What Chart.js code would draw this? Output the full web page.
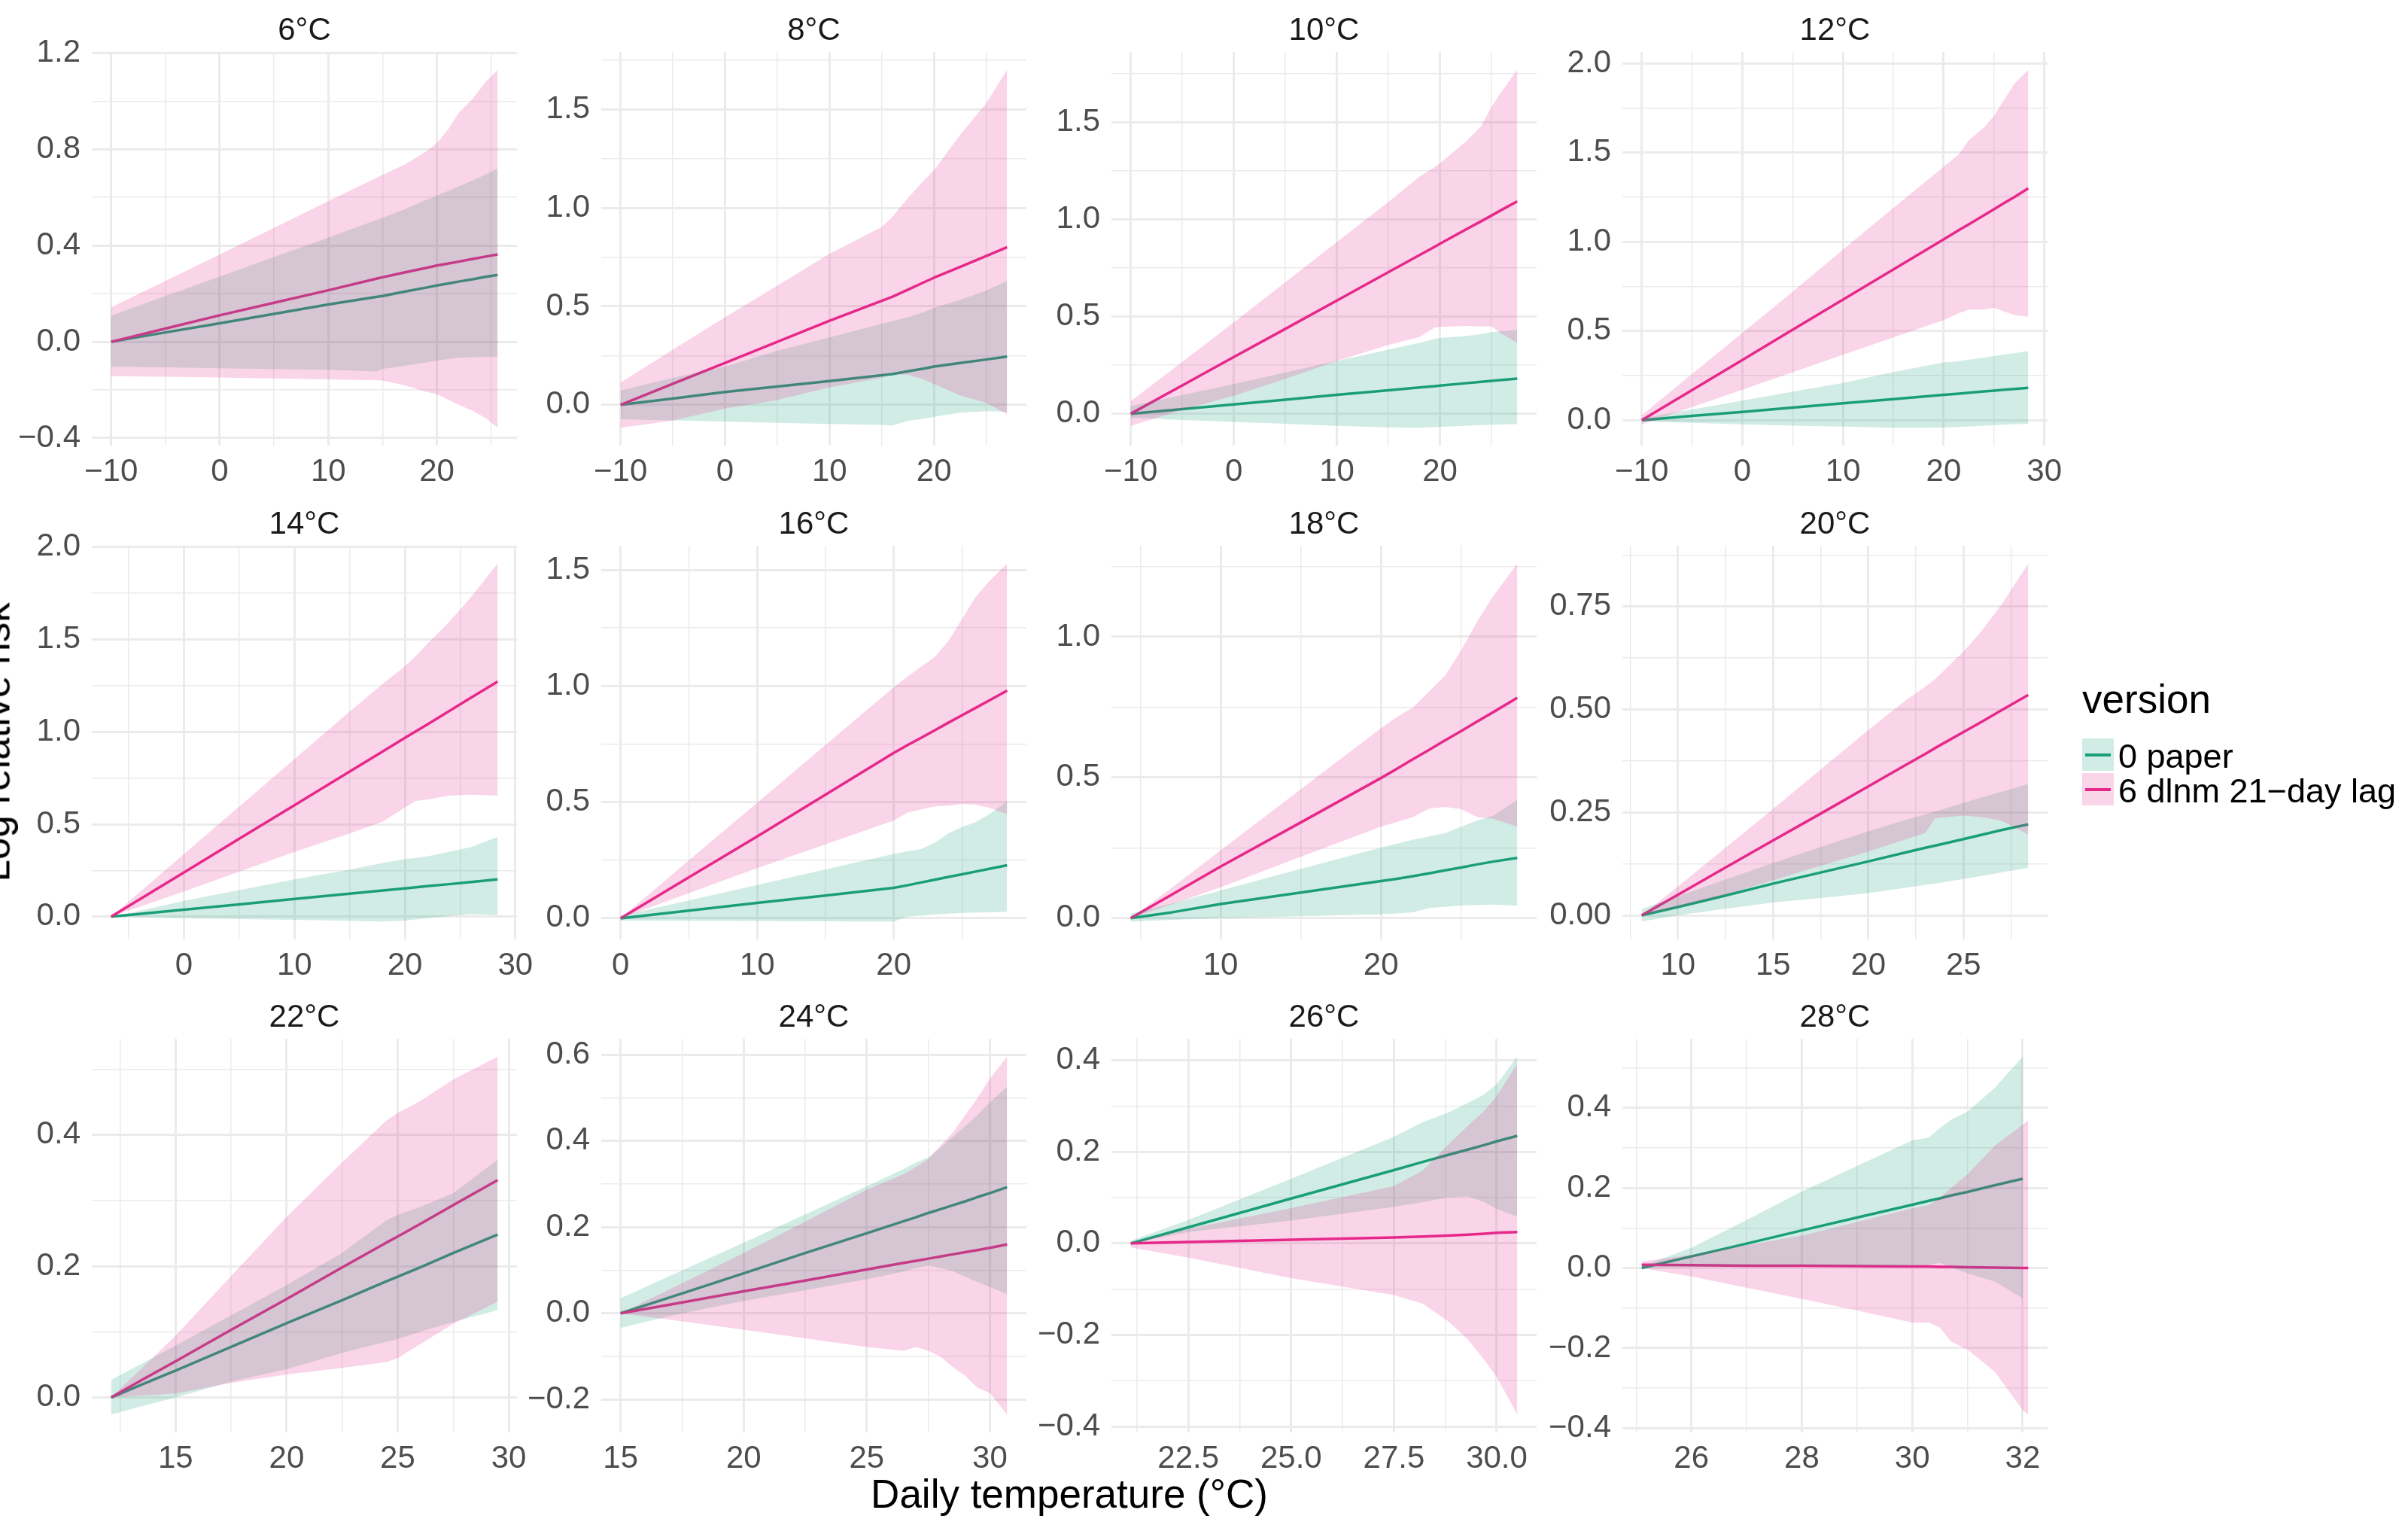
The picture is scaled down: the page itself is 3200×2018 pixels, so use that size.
<!DOCTYPE html>
<html>
<head>
<meta charset="utf-8">
<script src="https://cdn.jsdelivr.net/npm/chart.js"></script>
<style>
  body { margin: 0; width: 3200px; height: 2018px; background: #fff; position: relative; overflow: hidden;
         font-family: "Liberation Sans", Arial, sans-serif; }
  canvas { position: absolute; }
  .txt { position: absolute; white-space: nowrap; line-height: 1; }
  .strip { font-size: 42px; color: #1a1a1a; transform: translate(-50%, -50%); }
  .key { position: absolute; width: 42px; height: 43px; }
  .key span { position: absolute; left: 4px; right: 4px; top: 20px; height: 3.5px; }
</style>
</head>
<body>
<script>
// temperature (x) for each facet, then fitted log RR and CI bounds for both versions
const temp06 = [-10, -5, 0, 5, 10, 14.5, 15, 17, 19, 20, 21, 22, 23.3, 24.5, 25.6]
const paper06 = [0, 0.039, 0.077, 0.116, 0.155, 0.187, 0.19, 0.208, 0.225, 0.234, 0.242, 0.25, 0.26, 0.27, 0.278]
const paperLo06 = [-0.103, -0.106, -0.11, -0.113, -0.116, -0.123, -0.112, -0.1, -0.086, -0.079, -0.072, -0.066, -0.064, -0.063, -0.062]
const paperHi06 = [0.108, 0.19, 0.271, 0.352, 0.433, 0.507, 0.515, 0.55, 0.589, 0.608, 0.626, 0.645, 0.67, 0.695, 0.72]
const dlnm06 = [0, 0.055, 0.11, 0.162, 0.214, 0.263, 0.268, 0.288, 0.307, 0.317, 0.325, 0.333, 0.344, 0.354, 0.363]
const dlnmLo06 = [-0.143, -0.145, -0.148, -0.152, -0.156, -0.16, -0.161, -0.18, -0.208, -0.218, -0.24, -0.262, -0.287, -0.317, -0.357]
const dlnmHi06 = [0.143, 0.253, 0.363, 0.473, 0.584, 0.683, 0.694, 0.735, 0.79, 0.826, 0.88, 0.95, 1.01, 1.08, 1.13]

const temp08 = [-10, -5, 0, 5, 10, 15, 16, 17.5, 19, 20, 22.5, 25, 27]
const paper08 = [0, 0.032, 0.065, 0.093, 0.121, 0.15, 0.156, 0.17, 0.184, 0.194, 0.212, 0.23, 0.245]
const paperLo08 = [-0.073, -0.079, -0.085, -0.091, -0.097, -0.102, -0.105, -0.082, -0.07, -0.061, -0.04, -0.032, -0.035]
const paperHi08 = [0.073, 0.137, 0.194, 0.274, 0.342, 0.411, 0.425, 0.444, 0.47, 0.492, 0.532, 0.58, 0.629]
const dlnm08 = [0, 0.107, 0.213, 0.32, 0.427, 0.528, 0.548, 0.584, 0.621, 0.645, 0.70, 0.755, 0.80]
const dlnmLo08 = [-0.116, -0.08, -0.019, 0.024, 0.089, 0.137, 0.155, 0.153, 0.129, 0.105, 0.048, 0.01, -0.048]
const dlnmHi08 = [0.113, 0.28, 0.444, 0.605, 0.766, 0.903, 0.952, 1.05, 1.137, 1.19, 1.37, 1.53, 1.70]

const temp10 = [-10, -5, 0, 5, 10, 15, 18, 19.5, 20, 22.5, 24, 25, 26, 27.5]
const paper10 = [0, 0.024, 0.048, 0.072, 0.097, 0.121, 0.135, 0.142, 0.145, 0.157, 0.164, 0.169, 0.174, 0.181]
const paperLo10 = [-0.021, -0.032, -0.042, -0.052, -0.062, -0.07, -0.072, -0.069, -0.067, -0.062, -0.059, -0.057, -0.055, -0.054]
const paperHi10 = [0.039, 0.096, 0.153, 0.213, 0.272, 0.33, 0.365, 0.385, 0.39, 0.40, 0.41, 0.42, 0.425, 0.432]
const dlnm10 = [0, 0.146, 0.292, 0.437, 0.583, 0.729, 0.816, 0.86, 0.875, 0.948, 0.991, 1.02, 1.05, 1.093]
const dlnmLo10 = [-0.062, 0.02, 0.093, 0.18, 0.272, 0.354, 0.395, 0.444, 0.447, 0.452, 0.449, 0.449, 0.411, 0.365]
const dlnmHi10 = [0.064, 0.267, 0.47, 0.677, 0.884, 1.09, 1.22, 1.27, 1.29, 1.40, 1.48, 1.58, 1.66, 1.77]

const temp12 = [-10, -5, 0, 5, 10, 15, 20, 21.5, 22.5, 24, 25, 26, 27, 28.4]
const paper12 = [0, 0.024, 0.047, 0.071, 0.095, 0.118, 0.142, 0.149, 0.154, 0.161, 0.166, 0.171, 0.175, 0.182]
const paperLo12 = [-0.005, -0.015, -0.023, -0.03, -0.036, -0.042, -0.041, -0.038, -0.035, -0.03, -0.027, -0.025, -0.022, -0.02]
const paperHi12 = [0.012, 0.06, 0.11, 0.16, 0.209, 0.27, 0.324, 0.33, 0.34, 0.35, 0.36, 0.368, 0.376, 0.387]
const dlnm12 = [0, 0.169, 0.338, 0.507, 0.676, 0.845, 1.014, 1.065, 1.098, 1.149, 1.183, 1.217, 1.25, 1.30]
const dlnmLo12 = [-0.023, 0.074, 0.171, 0.269, 0.367, 0.464, 0.561, 0.6, 0.62, 0.62, 0.63, 0.61, 0.59, 0.58]
const dlnmHi12 = [0.027, 0.26, 0.49, 0.72, 0.957, 1.19, 1.42, 1.49, 1.57, 1.64, 1.706, 1.795, 1.884, 1.964]

const temp14 = [-6.6, -3, 0, 5, 10, 15, 18, 20, 21, 22, 24, 26, 28.4]
const paper14 = [0, 0.021, 0.038, 0.067, 0.096, 0.125, 0.142, 0.153, 0.159, 0.165, 0.176, 0.188, 0.202]
const paperLo14 = [0, -0.005, -0.009, -0.013, -0.017, -0.022, -0.026, -0.021, -0.015, -0.009, 0.003, 0.014, 0.009]
const paperHi14 = [0, 0.045, 0.086, 0.144, 0.202, 0.255, 0.291, 0.312, 0.318, 0.326, 0.351, 0.377, 0.432]
const dlnm14 = [0, 0.131, 0.24, 0.422, 0.603, 0.785, 0.894, 0.967, 1.003, 1.039, 1.112, 1.185, 1.272]
const dlnmLo14 = [0, 0.075, 0.137, 0.244, 0.351, 0.45, 0.514, 0.591, 0.626, 0.634, 0.655, 0.66, 0.655]
const dlnmHi14 = [0, 0.185, 0.339, 0.596, 0.852, 1.11, 1.26, 1.354, 1.41, 1.474, 1.594, 1.73, 1.91]

const temp16 = [0, 5, 10, 15, 20, 21, 22, 23, 24, 25, 26, 27, 28.3]
const paper16 = [0, 0.033, 0.066, 0.098, 0.131, 0.142, 0.154, 0.166, 0.178, 0.189, 0.201, 0.213, 0.228]
const paperLo16 = [-0.01, -0.011, -0.012, -0.013, -0.014, 0.007, 0.011, 0.016, 0.02, 0.023, 0.025, 0.026, 0.027]
const paperHi16 = [0.011, 0.077, 0.143, 0.21, 0.277, 0.288, 0.298, 0.325, 0.366, 0.393, 0.414, 0.448, 0.503]
const dlnm16 = [0, 0.176, 0.352, 0.532, 0.712, 0.745, 0.777, 0.809, 0.842, 0.874, 0.906, 0.938, 0.98]
const dlnmLo16 = [0, 0.108, 0.216, 0.318, 0.421, 0.455, 0.469, 0.482, 0.485, 0.492, 0.489, 0.475, 0.448]
const dlnmHi16 = [0, 0.249, 0.497, 0.746, 0.995, 1.04, 1.083, 1.124, 1.193, 1.288, 1.384, 1.452, 1.527]

const temp18 = [4.4, 7, 10, 15, 20, 21, 22, 23, 24, 25, 26, 27, 28.5]
const paper18 = [0, 0.021, 0.05, 0.091, 0.132, 0.14, 0.149, 0.159, 0.17, 0.18, 0.191, 0.201, 0.214]
const paperLo18 = [-0.012, -0.006, 0, 0.007, 0.014, 0.017, 0.021, 0.036, 0.04, 0.045, 0.047, 0.048, 0.044]
const paperHi18 = [0.016, 0.053, 0.098, 0.175, 0.251, 0.265, 0.279, 0.29, 0.302, 0.325, 0.347, 0.364, 0.421]
const dlnm18 = [0, 0.085, 0.183, 0.34, 0.498, 0.531, 0.565, 0.598, 0.632, 0.665, 0.699, 0.732, 0.783]
const dlnmLo18 = [0, 0.05, 0.11, 0.218, 0.325, 0.342, 0.359, 0.389, 0.395, 0.387, 0.359, 0.353, 0.325]
const dlnmHi18 = [0, 0.11, 0.241, 0.458, 0.675, 0.715, 0.749, 0.805, 0.862, 0.952, 1.054, 1.145, 1.26]

const temp20 = [8.1, 10, 12.5, 15, 17.5, 20, 22, 23, 23.5, 25, 26, 27, 28.4]
const paper20 = [0, 0.02, 0.048, 0.077, 0.104, 0.131, 0.153, 0.164, 0.169, 0.185, 0.196, 0.207, 0.221]
const paperLo20 = [-0.015, 0, 0.016, 0.031, 0.042, 0.054, 0.067, 0.074, 0.077, 0.088, 0.096, 0.104, 0.115]
const paperHi20 = [0.015, 0.046, 0.087, 0.127, 0.166, 0.204, 0.232, 0.245, 0.252, 0.273, 0.287, 0.3, 0.319]
const dlnm20 = [0, 0.05, 0.116, 0.182, 0.247, 0.313, 0.366, 0.392, 0.406, 0.445, 0.471, 0.498, 0.535]
const dlnmLo20 = [0, 0.02, 0.05, 0.085, 0.12, 0.155, 0.185, 0.2, 0.236, 0.242, 0.238, 0.23, 0.196]
const dlnmHi20 = [0, 0.07, 0.164, 0.258, 0.354, 0.45, 0.523, 0.555, 0.573, 0.64, 0.693, 0.755, 0.854]

const temp22 = [12.1, 13.5, 15, 17.5, 20, 22.5, 24.5, 25, 26, 27.5, 29.5]
const paper22 = [0, 0.02, 0.041, 0.077, 0.113, 0.148, 0.177, 0.184, 0.198, 0.22, 0.248]
const paperLo22 = [-0.026, -0.013, 0, 0.024, 0.043, 0.068, 0.085, 0.089, 0.1, 0.115, 0.133]
const paperHi22 = [0.027, 0.052, 0.079, 0.125, 0.171, 0.22, 0.27, 0.278, 0.29, 0.311, 0.362]
const dlnm22 = [0, 0.027, 0.055, 0.103, 0.15, 0.198, 0.236, 0.245, 0.264, 0.293, 0.331]
const dlnmLo22 = [0, 0.003, 0.006, 0.022, 0.035, 0.045, 0.054, 0.06, 0.081, 0.112, 0.146]
const dlnmHi22 = [0, 0.045, 0.094, 0.185, 0.275, 0.358, 0.422, 0.433, 0.451, 0.484, 0.519]

const temp24 = [15, 17, 20, 22.5, 25, 26.5, 27, 27.5, 28, 28.5, 29, 29.5, 30, 30.7]
const paper24 = [0, 0.037, 0.093, 0.14, 0.186, 0.214, 0.223, 0.233, 0.242, 0.251, 0.26, 0.27, 0.279, 0.293]
const paperLo24 = [-0.034, -0.006, 0.029, 0.054, 0.079, 0.097, 0.105, 0.111, 0.105, 0.098, 0.085, 0.073, 0.061, 0.045]
const paperHi24 = [0.035, 0.087, 0.164, 0.23, 0.295, 0.335, 0.35, 0.362, 0.385, 0.41, 0.435, 0.46, 0.49, 0.526]
const dlnm24 = [0, 0.02, 0.051, 0.076, 0.102, 0.117, 0.122, 0.127, 0.132, 0.137, 0.142, 0.147, 0.152, 0.16]
const dlnmLo24 = [0, -0.015, -0.038, -0.058, -0.078, -0.087, -0.078, -0.087, -0.101, -0.125, -0.145, -0.173, -0.185, -0.235]
const dlnmHi24 = [0, 0.056, 0.14, 0.213, 0.287, 0.323, 0.34, 0.358, 0.39, 0.42, 0.46, 0.5, 0.545, 0.596]

const temp26 = [21.1, 22.5, 25, 27.5, 28.2, 28.8, 29.3, 29.7, 30, 30.5]
const paper26 = [0, 0.035, 0.098, 0.16, 0.178, 0.193, 0.205, 0.215, 0.223, 0.235]
const paperLo26 = [0, 0.025, 0.05, 0.08, 0.09, 0.1, 0.103, 0.09, 0.075, 0.058]
const paperHi26 = [0.006, 0.051, 0.141, 0.233, 0.265, 0.285, 0.307, 0.326, 0.348, 0.408]
const dlnm26 = [0, 0.003, 0.008, 0.013, 0.015, 0.017, 0.019, 0.021, 0.023, 0.025]
const dlnmLo26 = [-0.009, -0.031, -0.076, -0.113, -0.132, -0.169, -0.21, -0.255, -0.292, -0.374]
const dlnmHi26 = [0, 0.032, 0.077, 0.125, 0.159, 0.214, 0.257, 0.29, 0.322, 0.393]

const temp28 = [25.1, 26, 27, 28, 29, 30, 30.3, 30.5, 30.7, 31, 31.5, 32, 32.1]
const paper28 = [0, 0.029, 0.061, 0.094, 0.126, 0.158, 0.168, 0.174, 0.181, 0.19, 0.207, 0.223, null]
const paperLo28 = [0, 0.003, 0.004, 0.005, 0.005, 0.005, 0.008, 0.013, 0.002, -0.013, -0.034, -0.075, null]
const paperHi28 = [0.004, 0.051, 0.12, 0.191, 0.255, 0.319, 0.326, 0.35, 0.37, 0.391, 0.451, 0.528, null]
const dlnm28 = [0.008, 0.007, 0.006, 0.006, 0.005, 0.004, 0.004, 0.003, 0.003, 0.002, 0.001, 0, 0]
const dlnmLo28 = [0, -0.021, -0.049, -0.077, -0.106, -0.136, -0.136, -0.149, -0.183, -0.204, -0.26, -0.355, -0.366]
const dlnmHi28 = [0.016, 0.033, 0.057, 0.081, 0.115, 0.149, 0.157, 0.175, 0.2, 0.234, 0.306, 0.358, 0.368]

// facet labels and axis tick labels
const facetTitles = ['6°C', '8°C', '10°C', '12°C', '14°C', '16°C', '18°C', '20°C', '22°C', '24°C', '26°C', '28°C']
const xTickLabels = [
  ['−10', '0', '10', '20'], ['−10', '0', '10', '20'], ['−10', '0', '10', '20'], ['−10', '0', '10', '20', '30'],
  ['0', '10', '20', '30'], ['0', '10', '20'], ['10', '20'], ['10', '15', '20', '25'],
  ['15', '20', '25', '30'], ['15', '20', '25', '30'], ['22.5', '25.0', '27.5', '30.0'], ['26', '28', '30', '32']
]
const yTickLabels = [
  ['−0.4', '0.0', '0.4', '0.8', '1.2'], ['0.0', '0.5', '1.0', '1.5'], ['0.0', '0.5', '1.0', '1.5'], ['0.0', '0.5', '1.0', '1.5', '2.0'],
  ['0.0', '0.5', '1.0', '1.5', '2.0'], ['0.0', '0.5', '1.0', '1.5'], ['0.0', '0.5', '1.0'], ['0.00', '0.25', '0.50', '0.75'],
  ['0.0', '0.2', '0.4'], ['−0.2', '0.0', '0.2', '0.4', '0.6'], ['−0.4', '−0.2', '0.0', '0.2', '0.4'], ['−0.4', '−0.2', '0.0', '0.2', '0.4']
]

const panels = [
  [temp06, paper06, paperLo06, paperHi06, dlnm06, dlnmLo06, dlnmHi06],
  [temp08, paper08, paperLo08, paperHi08, dlnm08, dlnmLo08, dlnmHi08],
  [temp10, paper10, paperLo10, paperHi10, dlnm10, dlnmLo10, dlnmHi10],
  [temp12, paper12, paperLo12, paperHi12, dlnm12, dlnmLo12, dlnmHi12],
  [temp14, paper14, paperLo14, paperHi14, dlnm14, dlnmLo14, dlnmHi14],
  [temp16, paper16, paperLo16, paperHi16, dlnm16, dlnmLo16, dlnmHi16],
  [temp18, paper18, paperLo18, paperHi18, dlnm18, dlnmLo18, dlnmHi18],
  [temp20, paper20, paperLo20, paperHi20, dlnm20, dlnmLo20, dlnmHi20],
  [temp22, paper22, paperLo22, paperHi22, dlnm22, dlnmLo22, dlnmHi22],
  [temp24, paper24, paperLo24, paperHi24, dlnm24, dlnmLo24, dlnmHi24],
  [temp26, paper26, paperLo26, paperHi26, dlnm26, dlnmLo26, dlnmHi26],
  [temp28, paper28, paperLo28, paperHi28, dlnm28, dlnmLo28, dlnmHi28]
]

const GREEN = '#1B9E77', PINK = '#E7298A'
const GREEN_FILL = 'rgba(27,158,119,0.2)', PINK_FILL = 'rgba(231,41,138,0.2)'
const FONT = '"Liberation Sans", Arial, sans-serif'

// panel geometry (plot area of each facet)
const colLeft = [122, 799, 1477, 2156]
const rowTop = [69, 725, 1380]
const PANEL_W = 565, PANEL_H = 523
const AXIS_W = 130, AXIS_H = 70, PAD_T = 30, PAD_R = 50

function padRange(arrs) {
  const v = [].concat(...arrs).filter(d => d !== null)
  const lo = Math.min(...v), hi = Math.max(...v), e = (hi - lo) * 0.05
  return [lo - e, hi + e]
}

function tickList(labels, min, max) {
  const major = labels.map(s => parseFloat(s.replace('−', '-')))
  const step = major[1] - major[0]
  const list = major.map((v, k) => ({ value: v, txt: labels[k] }))
  for (let k = -1; k <= major.length; k++) {
    const v = major[0] + step * (k + 0.5)
    if (v >= min && v <= max) list.push({ value: v, txt: '', minor: true })
  }
  return list.sort((a, b) => a.value - b.value)
}

function addText(cls, text, css) {
  const d = document.createElement('div')
  d.className = 'txt ' + cls
  d.textContent = text
  Object.assign(d.style, css)
  document.body.appendChild(d)
  return d
}

function axisOpts(ticks, min, max, isX) {
  return {
    type: 'linear', min: min, max: max, bounds: 'data',
    afterBuildTicks: s => { s.ticks = ticks.map(t => Object.assign({}, t)) },
    afterFit: s => {
      if (isX) { s.height = AXIS_H; s.paddingLeft = 0; s.paddingRight = 0 }
      else { s.width = AXIS_W; s.paddingTop = 0; s.paddingBottom = 0 }
    },
    grid: { color: '#ebebeb', lineWidth: c => (c.tick && c.tick.minor ? 1.5 : 3), drawTicks: false },
    border: { display: false },
    ticks: {
      autoSkip: false, maxRotation: 0, minRotation: 0,
      padding: isX ? 10 : 15, color: '#4d4d4d',
      font: { family: FONT, size: 42 },
      callback: (v, i, arr) => arr[i].txt
    }
  }
}

panels.forEach((p, i) => {
  const col = i % 4, row = Math.floor(i / 4)
  const [t, paper, paperLo, paperHi, dlnm, dlnmLo, dlnmHi] = p
  const xr = padRange([t])
  const yr = padRange([paper, paperLo, paperHi, dlnm, dlnmLo, dlnmHi])

  const canvas = document.createElement('canvas')
  canvas.width = AXIS_W + PANEL_W + PAD_R
  canvas.height = PAD_T + PANEL_H + AXIS_H
  canvas.style.left = (colLeft[col] - AXIS_W) + 'px'
  canvas.style.top = (rowTop[row] - PAD_T) + 'px'
  document.body.appendChild(canvas)

  const pts = ys => t.map((x, k) => ({ x: x, y: ys[k] }))
  const line = (ys, color, order) => ({ data: pts(ys), borderColor: color, borderWidth: 3.5, fill: false,
    pointRadius: 0, tension: 0, borderJoinStyle: 'round', order: order })
  const edge = (ys, fill, order) => ({ data: pts(ys), borderColor: 'rgba(0,0,0,0)', borderWidth: 0,
    backgroundColor: fill || 'rgba(0,0,0,0)', fill: fill ? '+1' : false, pointRadius: 0, tension: 0, order: order })

  new Chart(canvas.getContext('2d'), {
    type: 'line',
    data: {
      datasets: [
        line(paper, GREEN, 6),
        line(dlnm, PINK, 5),
        edge(paperHi, GREEN_FILL, 4),
        edge(paperLo, null, 3),
        edge(dlnmHi, PINK_FILL, 2),
        edge(dlnmLo, null, 1)
      ]
    },
    options: {
      responsive: false, animation: false, events: [], devicePixelRatio: 1,
      layout: { padding: { top: PAD_T, right: PAD_R, left: 0, bottom: 0 } },
      plugins: { legend: { display: false }, tooltip: { enabled: false } },
      scales: {
        x: axisOpts(tickList(xTickLabels[i], xr[0], xr[1]), xr[0], xr[1], true),
        y: axisOpts(tickList(yTickLabels[i], yr[0], yr[1]), yr[0], yr[1], false)
      }
    }
  })

  addText('strip', facetTitles[i], { left: (colLeft[col] + PANEL_W / 2) + 'px', top: (rowTop[row] - 30) + 'px' })
})

// shared axis titles
addText('', 'Daily temperature (°C)', { left: '1421px', top: '1984px', fontSize: '53px', color: '#000',
  transform: 'translate(-50%, -50%)' })
addText('', 'Log relative risk', { left: '-6px', top: '986px', fontSize: '53px', color: '#000',
  transform: 'translate(-50%, -50%) rotate(-90deg)' })

// legend
addText('', 'version', { left: '2767px', top: '902px', fontSize: '53px', color: '#000' })
const legendItems = [['0 paper', GREEN, GREEN_FILL, 981], ['6 dlnm 21\u2212day lag', PINK, PINK_FILL, 1027]]
legendItems.forEach(([label, color, fill, top]) => {
  const k = document.createElement('div')
  k.className = 'key'
  k.style.left = '2767px'
  k.style.top = top + 'px'
  k.style.background = fill
  const s = document.createElement('span')
  s.style.background = color
  k.appendChild(s)
  document.body.appendChild(k)
  addText('', label, { left: '2815px', top: (top + 0.5) + 'px', fontSize: '45px', color: '#000' })
})
</script>
</body>
</html>
